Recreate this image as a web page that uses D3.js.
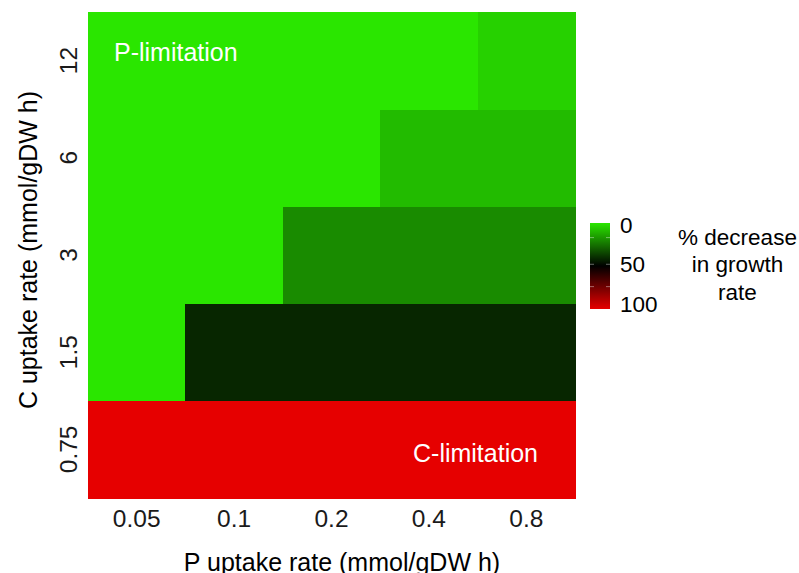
<!DOCTYPE html>
<html><head><meta charset="utf-8">
<script src="https://cdn.jsdelivr.net/npm/d3@7"></script>
<style>body{margin:0;background:#fff}svg{display:block}text{font-family:"Liberation Sans",Arial,sans-serif}</style>
</head><body><svg id="c" width="799" height="573"></svg>
<script>
const pRates = ["0.05","0.1","0.2","0.4","0.8"];
const cRates = ["0.75","1.5","3","6","12"];
// % decrease in growth rate, rows by C uptake rate, columns by P uptake rate
const row_0_75 = [100,100,100,100,100];
const row_1_5  = [0,41.7,41.7,41.7,41.7];
const row_3    = [0,0,19.8,19.8,19.8];
const row_6    = [0,0,0,9.3,9.3];
const row_12   = [0,0,0,0,4.6];
const rows = [row_0_75,row_1_5,row_3,row_6,row_12];
const legendTicks = [0,50,100];
const legendTitle = ["% decrease","in growth","rate"];

const cells = [];
cRates.forEach((c,i)=>pRates.forEach((p,j)=>cells.push({c,p,v:rows[i][j]})));

const svg = d3.select("#c");
const L=88,R=575,T=12,B=498;
const x = d3.scaleBand().domain(pRates).range([L,R]);
const y = d3.scaleBand().domain(cRates).range([B,T]);
const color = d3.scaleLinear().domain([0,50,100]).range(["#2ae600","#000000","#e60000"]);

svg.append("g").attr("shape-rendering","crispEdges").selectAll("rect").data(cells).join("rect")
  .attr("x",d=>x(d.p)).attr("y",d=>y(d.c))
  .attr("width",x.bandwidth()+0.6).attr("height",y.bandwidth()+0.6)
  .attr("fill",d=>color(d.v));

// axes
const xa = svg.append("g").attr("transform",`translate(0,${B})`)
  .call(d3.axisBottom(x).tickSize(0).tickPadding(0));
xa.select(".domain").remove();
xa.selectAll("text").attr("font-size",24.5).attr("fill","#1a1a1a")
  .attr("font-family","Liberation Sans, Arial, sans-serif").attr("y",29).attr("dy",0);

const ya = svg.append("g").attr("transform",`translate(${L},0)`)
  .call(d3.axisLeft(y).tickSize(0).tickPadding(0));
ya.select(".domain").remove();
ya.selectAll(".tick text").attr("font-size",24.5).attr("fill","#1a1a1a")
  .attr("font-family","Liberation Sans, Arial, sans-serif")
  .attr("x",0).attr("y",0).attr("dy",0).attr("text-anchor","middle")
  .attr("transform","translate(-11,0) rotate(-90)");

svg.append("text").attr("x",342).attr("y",571).attr("text-anchor","middle")
  .attr("font-size",25).attr("fill","#000").text("P uptake rate (mmol/gDW h)");
svg.append("text").attr("transform",`translate(37,250) rotate(-90)`).attr("text-anchor","middle")
  .attr("font-size",25).attr("fill","#000").text("C uptake rate (mmol/gDW h)");

// annotations
svg.append("text").attr("x",114).attr("y",61).attr("font-size",25).attr("fill","#fff").text("P-limitation");
svg.append("text").attr("x",413).attr("y",462).attr("font-size",25).attr("fill","#fff").text("C-limitation");

// legend
const lx=590,lw=20,lt=223,lb=309;
const defs = svg.append("defs");
const grad = defs.append("linearGradient").attr("id","lg").attr("x1",0).attr("x2",0).attr("y1",0).attr("y2",1);
d3.range(0,101,10).forEach(v=>grad.append("stop").attr("offset",v/100).attr("stop-color",color(v)));
svg.append("rect").attr("x",lx).attr("y",lt).attr("width",lw).attr("height",lb-lt).attr("fill","url(#lg)");
const ls = d3.scaleLinear().domain([0,100]).range([lt+2,lb-5]);
[17,48,74].forEach(p=>{
  const yy = lt+(lb-lt)*p/100;
  svg.append("line").attr("x1",lx).attr("x2",lx+4).attr("y1",yy).attr("y2",yy).attr("stroke","#fff").attr("stroke-opacity",0.4);
  svg.append("line").attr("x1",lx+lw-4).attr("x2",lx+lw).attr("y1",yy).attr("y2",yy).attr("stroke","#fff").attr("stroke-opacity",0.4);
});
svg.append("g").selectAll("text").data(legendTicks).join("text")
  .attr("x",620).attr("y",d=>ls(d)).attr("dy","0.35em").attr("font-size",22.5).attr("fill","#000").text(d=>d);
svg.append("g").selectAll("text").data(legendTitle).join("text")
  .attr("x",737.5).attr("y",(d,i)=>245+i*27.3).attr("text-anchor","middle").attr("font-size",22.5).attr("fill","#000").text(d=>d);
</script></body></html>
